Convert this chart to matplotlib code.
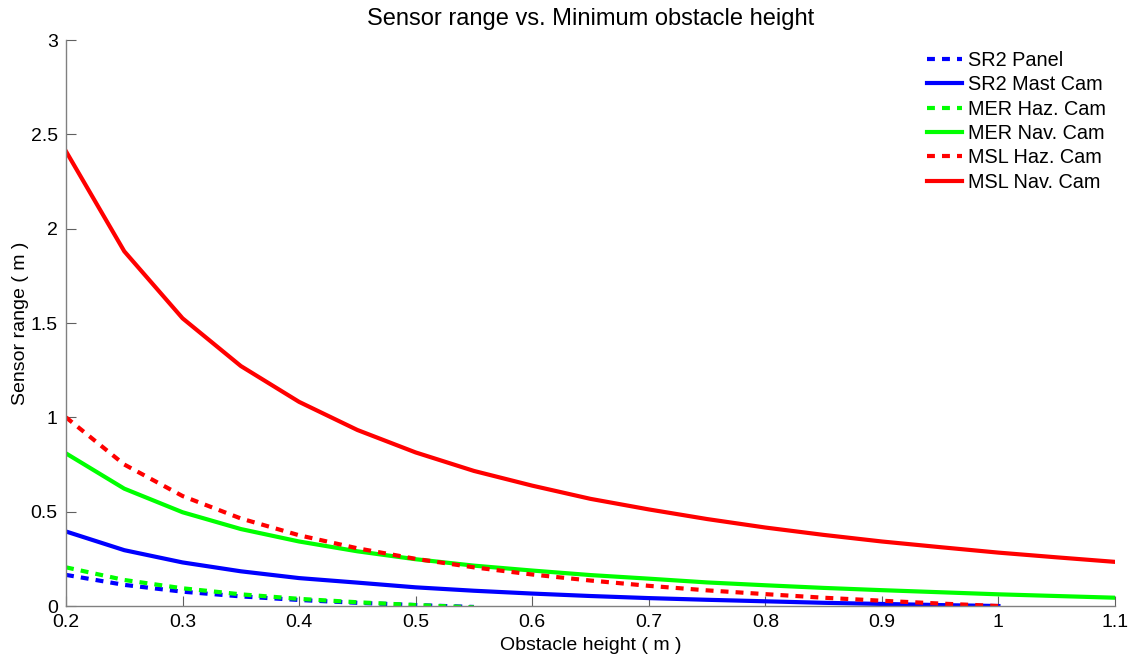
import numpy as np
import matplotlib
matplotlib.use("Agg")
import matplotlib.pyplot as plt

# Obstacle heights (m), sampled every 5 cm
heights = [0.20, 0.25, 0.30, 0.35, 0.40, 0.45, 0.50, 0.55, 0.60, 0.65,
           0.70, 0.75, 0.80, 0.85, 0.90, 0.95, 1.00, 1.05, 1.10]

# Sensor range (m) for each camera
sr2_panel = [0.165, 0.112, 0.076, 0.051, 0.032, 0.017, 0.005, -0.005]
sr2_mast = [0.395, 0.296, 0.231, 0.184, 0.148, 0.124, 0.099, 0.081, 0.066,
            0.053, 0.042, 0.033, 0.025, 0.017, 0.011, 0.005, 0.000]
mer_haz = [0.205, 0.138, 0.094, 0.062, 0.038, 0.020, 0.005, -0.007]
mer_nav = [0.809, 0.622, 0.497, 0.408, 0.342, 0.290, 0.248, 0.214, 0.188,
           0.164, 0.145, 0.125, 0.110, 0.096, 0.084, 0.073, 0.062, 0.053, 0.044]
msl_haz = [1.000, 0.750, 0.583, 0.464, 0.375, 0.306, 0.250, 0.205, 0.167,
           0.135, 0.107, 0.083, 0.063, 0.044, 0.028, 0.013, 0.000]
msl_nav = [2.410, 1.880, 1.525, 1.272, 1.082, 0.933, 0.814, 0.716, 0.638,
           0.568, 0.512, 0.461, 0.416, 0.377, 0.342, 0.312, 0.283, 0.258, 0.234]

series = [
    ("SR2 Panel", sr2_panel, (0, 0, 1), "--"),
    ("SR2 Mast Cam", sr2_mast, (0, 0, 1), "-"),
    ("MER Haz. Cam", mer_haz, (0, 1, 0), "--"),
    ("MER Nav. Cam", mer_nav, (0, 1, 0), "-"),
    ("MSL Haz. Cam", msl_haz, (1, 0, 0), "--"),
    ("MSL Nav. Cam", msl_nav, (1, 0, 0), "-"),
]

plt.rcParams["font.family"] = ["Liberation Sans", "DejaVu Sans"]

fig = plt.figure(figsize=(11.36, 6.57), dpi=100)
ax = fig.add_axes([0.0581, 0.0776, 0.9234, 0.8615])

for name, vals, color, ls in series:
    x = heights[:len(vals)]
    if ls == "--":
        ax.plot(x, vals, color=color, lw=3, linestyle=(0, (1.9, 1.7)),
                label=name, dash_capstyle="butt")
    else:
        ax.plot(x, vals, color=color, lw=3, label=name)

ax.set_xlim(0.2, 1.1)
ax.set_ylim(0, 3)
ax.set_xticks([0.2, 0.3, 0.4, 0.5, 0.6, 0.7, 0.8, 0.9, 1.0, 1.1])
ax.set_xticklabels(["0.2", "0.3", "0.4", "0.5", "0.6", "0.7", "0.8", "0.9", "1", "1.1"])
ax.set_yticks([0, 0.5, 1, 1.5, 2, 2.5, 3])
ax.set_yticklabels(["0", "0.5", "1", "1.5", "2", "2.5", "3"])

for side in ("top", "right"):
    ax.spines[side].set_visible(False)
for side in ("left", "bottom"):
    ax.spines[side].set_color("#808080")
    ax.spines[side].set_linewidth(1.0)

ax.tick_params(direction="in", length=7, width=0.8, color="#606060",
               labelsize=14, labelcolor="black")
ax.tick_params(axis="y", pad=6)
ax.tick_params(axis="x", pad=6)

ax.set_title("Sensor range vs. Minimum obstacle height", fontsize=17, pad=11)
ax.set_xlabel("Obstacle height ( m )", fontsize=14, labelpad=4)
ax.set_ylabel("Sensor range ( m )", fontsize=14, labelpad=1)

leg = ax.legend(loc="upper right", bbox_to_anchor=(0.999, 0.995), frameon=False,
                fontsize=14.3, handlelength=1.75, handletextpad=0.3,
                labelspacing=0.27, borderaxespad=0.0)

fig.savefig("out.png", dpi=100, facecolor="white")
